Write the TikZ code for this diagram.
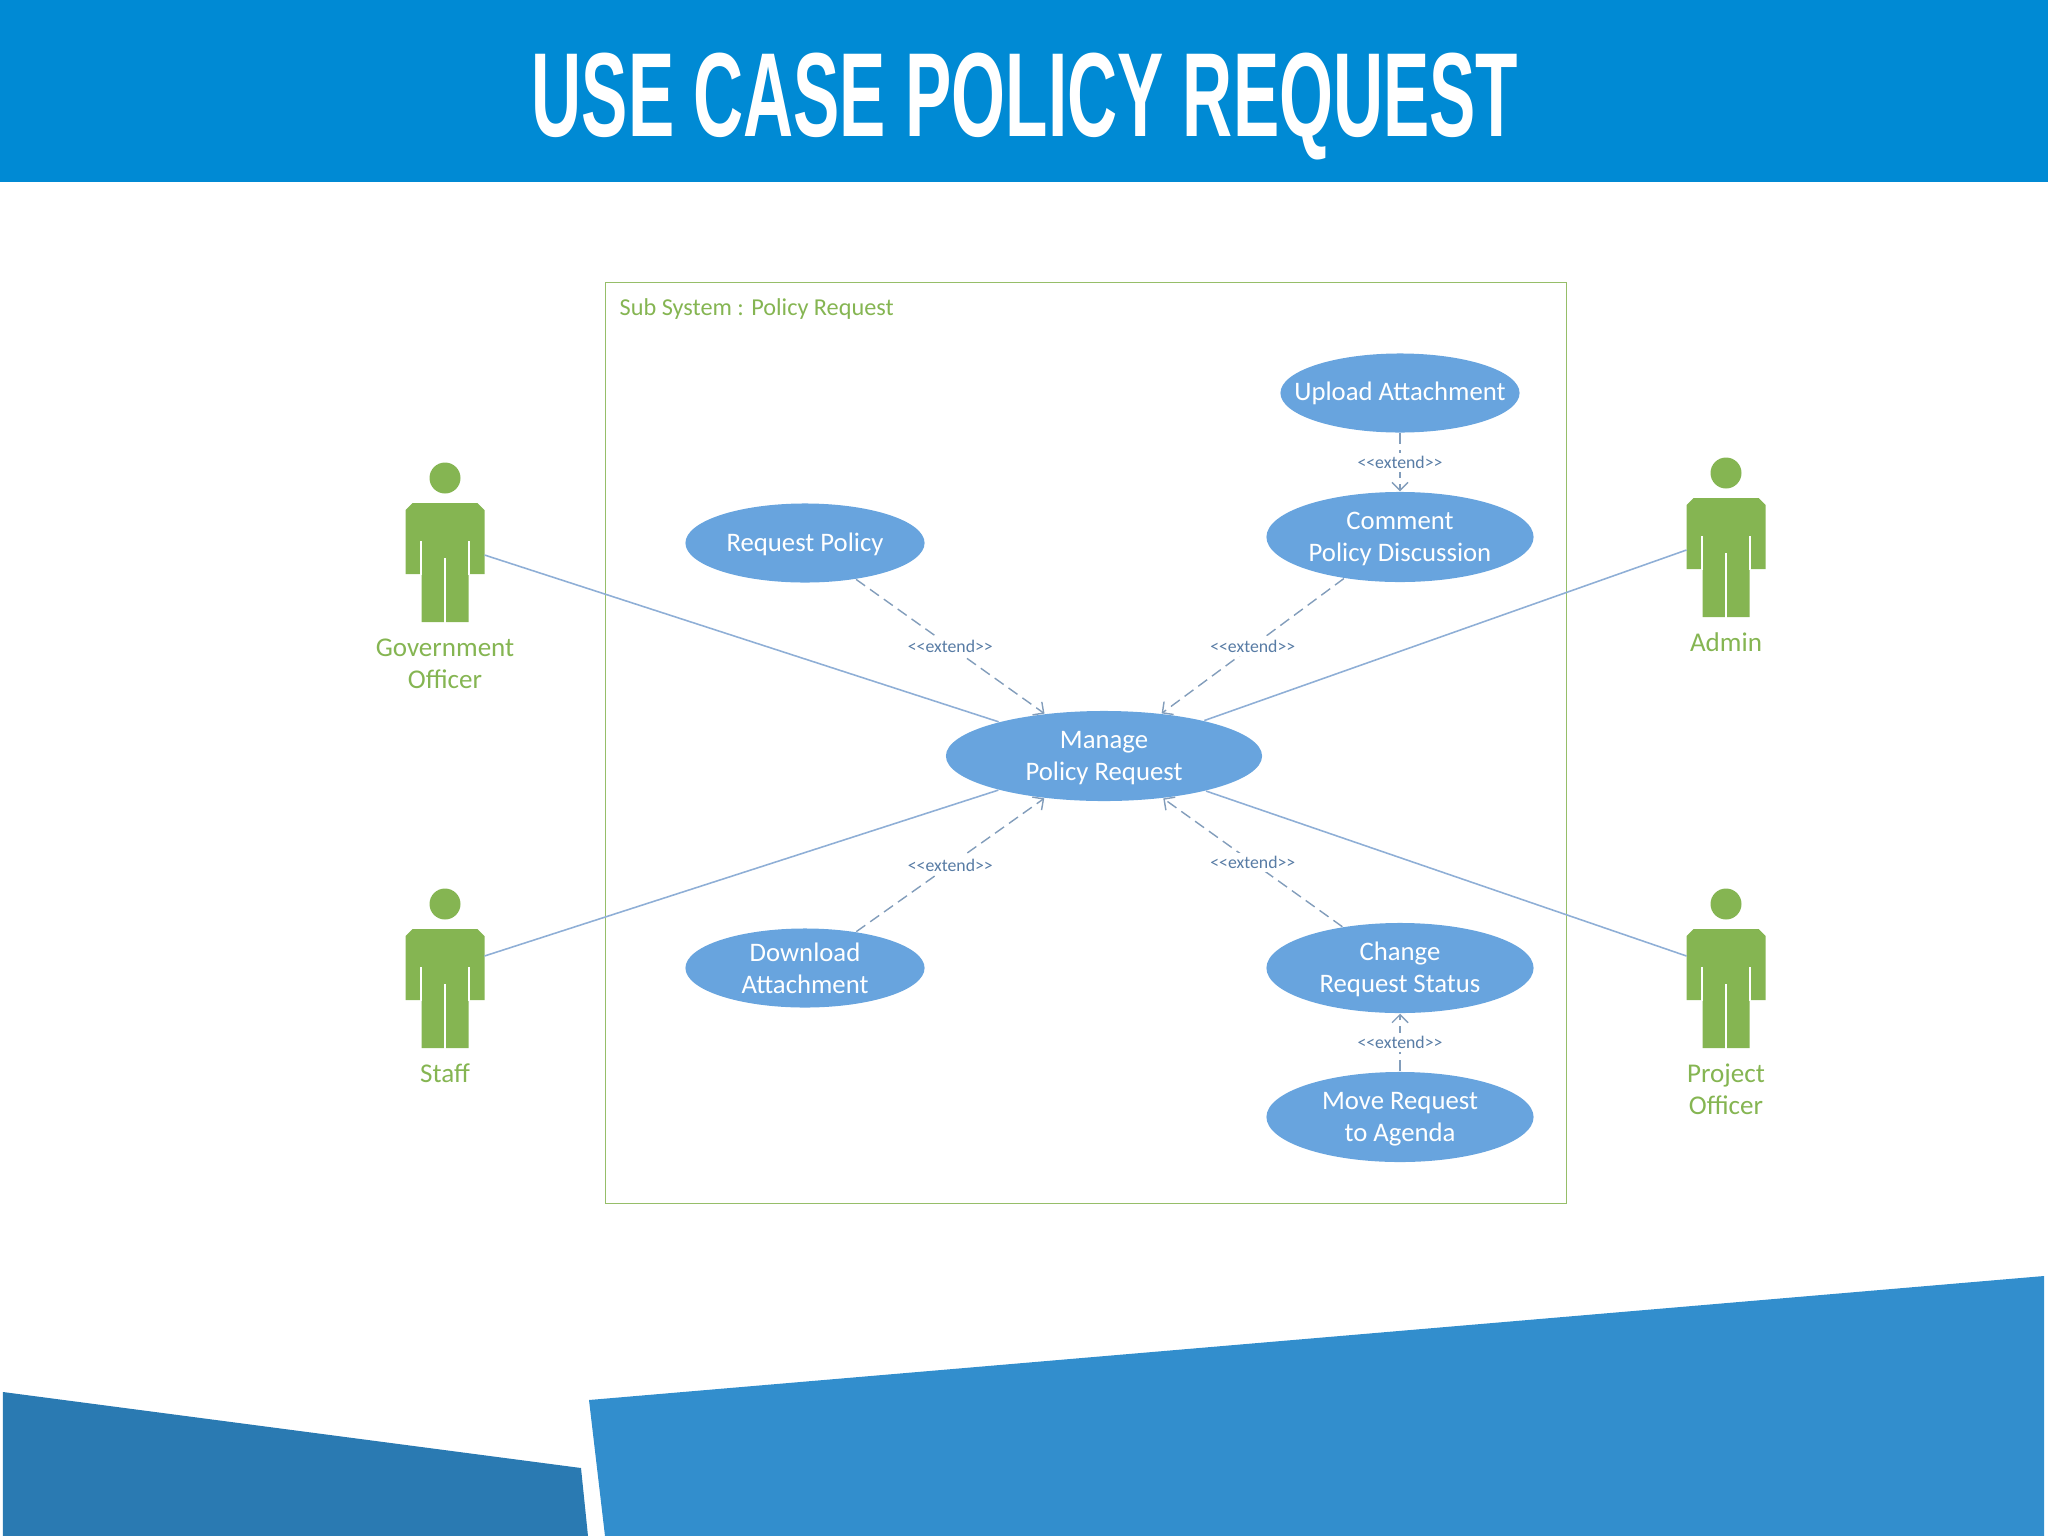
\documentclass[tikz,border=0pt]{standalone}
\usepackage{fontspec}
\setmainfont{Carlito}
\newfontfamily\titlefont[FakeStretch=0.58]{Liberation Sans}
\usetikzlibrary{arrows.meta, positioning, shapes, shapes.geometric}
\definecolor{BannerBlue}{RGB}{0, 138, 212}
\definecolor{FoldDark}{RGB}{42, 122, 178}
\definecolor{FoldLight}{RGB}{50, 142, 205}
\definecolor{CaseBlue}{RGB}{104, 164, 222}
\definecolor{ActorGreen}{RGB}{133, 181, 82}
\definecolor{FrameGreen}{RGB}{150, 190, 105}
\definecolor{LinkBlue}{RGB}{143, 175, 214}
\definecolor{ExtendBlue}{RGB}{88, 124, 165}
\newcommand{\extendtext}{<{}<extend>{}>}
\newcommand{\casestrut}{\rule{0pt}{5.9pt}}
\tikzset{every path/.style={line cap=butt, line join=miter}, >={Straight Barb[length=0.8mm, width=1.6mm]}}
\tikzset{
    actor/.pic={
        \fill[ActorGreen] (0,0) circle (15.5);
        \fill[ActorGreen] (-32.5,25) -- (32.5,25) -- (39.5,32) -- (39.5,96) -- (23.5,96) -- (23.5,144)
            -- (-23.5,144) -- (-23.5,96) -- (-39.5,96) -- (-39.5,32) -- cycle;
        \draw[white, line width=0.5pt] (-24,63) -- (-24,97);
        \draw[white, line width=0.5pt] (24,63) -- (24,97);
        \draw[white, line width=0.5pt] (0,80) -- (0,145);
        \coordinate (-eu) at (39.5,77);
        \coordinate (-wu) at (-39.5,77);
        \coordinate (-el) at (39.5,52);
        \coordinate (-wl) at (-39.5,52);
    }
}

\begin{document}
\begin{tikzpicture}[
    x=0.01cm,
    y=-0.01cm,
    usecase/.style={
        ellipse,
        fill=CaseBlue,
        inner sep=0pt,
        align=center,
        text=white,
        font=\fontsize{7.6pt}{9.1pt}\selectfont
    },
    smallcase/.style={
        usecase,
        minimum width=2.39cm,
        minimum height=0.79cm
    },
    bigcase/.style={
        usecase,
        minimum width=2.67cm,
        minimum height=0.90cm
    },
    actorlabel/.style={
        align=center,
        inner sep=0pt,
        text=ActorGreen,
        font=\fontsize{7.7pt}{9.1pt}\selectfont
    },
    assoc/.style={
        draw=LinkBlue,
        line width=0.45pt
    },
    extendlink/.style={
        ->,
        draw=ExtendBlue!75,
        line width=0.4pt,
        dash pattern=on 0.11cm off 0.06cm
    },
    extendtag/.style={
        fill=white,
        inner sep=1pt,
        text=ExtendBlue,
        font=\fontsize{5.05pt}{6pt}\selectfont
    }
]

\useasboundingbox (0,0) rectangle (2048,1536);

\fill[BannerBlue] (0,0) rectangle (2048,182);
\node[text=white, font=\titlefont\bfseries\fontsize{34pt}{40pt}\selectfont] (title) at (1025,107) {USE CASE POLICY REQUEST};

\fill[FoldDark] (3,1392) -- (581,1468) -- (588,1536) -- (3,1536) -- cycle;
\fill[FoldLight] (589,1400) -- (2044,1276) -- (2044,1536) -- (605,1536) -- cycle;

\node[draw=FrameGreen, line width=0.35pt, minimum width=9.61cm, minimum height=9.21cm, inner sep=0pt] (frame) at (1086,743) {};
\node[anchor=west, inner sep=0pt, text=ActorGreen, font=\fontsize{6.9pt}{7.6pt}\selectfont] (framelabel) at (619,309) {Sub System : Policy Request};

\node[smallcase, inner xsep=-0.25cm] (upload) at (1400,393) {Upload Attachment};
\node[bigcase] (comment) at (1400,537) {\casestrut Comment\\Policy Discussion};
\node[smallcase] (request) at (805,543) {\casestrut Request Policy};
\node[bigcase, minimum width=3.16cm] (manage) at (1104,756) {\casestrut Manage\\Policy Request};
\node[smallcase] (download) at (805,968) {Download\\Attachment};
\node[bigcase] (change) at (1400,968) {\casestrut Change\\Request Status};
\node[bigcase] (move) at (1400,1117) {\casestrut Move Request\\to Agenda};

\pic (gov) at (445,478) {actor};
\pic (admin) at (1726,473) {actor};
\pic (staff) at (445,904) {actor};
\pic (project) at (1726,904) {actor};

\node[actorlabel] (govlabel) at (445,664) {Government\\Officer};
\node[actorlabel] (adminlabel) at (1726,642) {Admin};
\node[actorlabel] (stafflabel) at (445,1073) {Staff};
\node[actorlabel] (projectlabel) at (1726,1089) {Project\\Officer};

\draw[assoc] (gov-eu) -- (manage);
\draw[assoc] (admin-wu) -- (manage);
\draw[assoc] (staff-el) -- (manage);
\draw[assoc] (project-wl) -- (manage);

\draw[extendlink] (upload) -- node[extendtag] (tagupload) {\extendtext} (comment);
\draw[extendlink] (request) -- node[extendtag] (tagrequest) {\extendtext} (manage);
\draw[extendlink] (comment) -- node[extendtag] (tagcomment) {\extendtext} (manage);
\draw[extendlink] (download) -- node[extendtag] (tagdownload) {\extendtext} (manage);
\draw[extendlink] (change) -- node[extendtag] (tagchange) {\extendtext} (manage);
\draw[extendlink] (move) -- node[extendtag] (tagmove) {\extendtext} (change);

\end{tikzpicture}
\end{document}
